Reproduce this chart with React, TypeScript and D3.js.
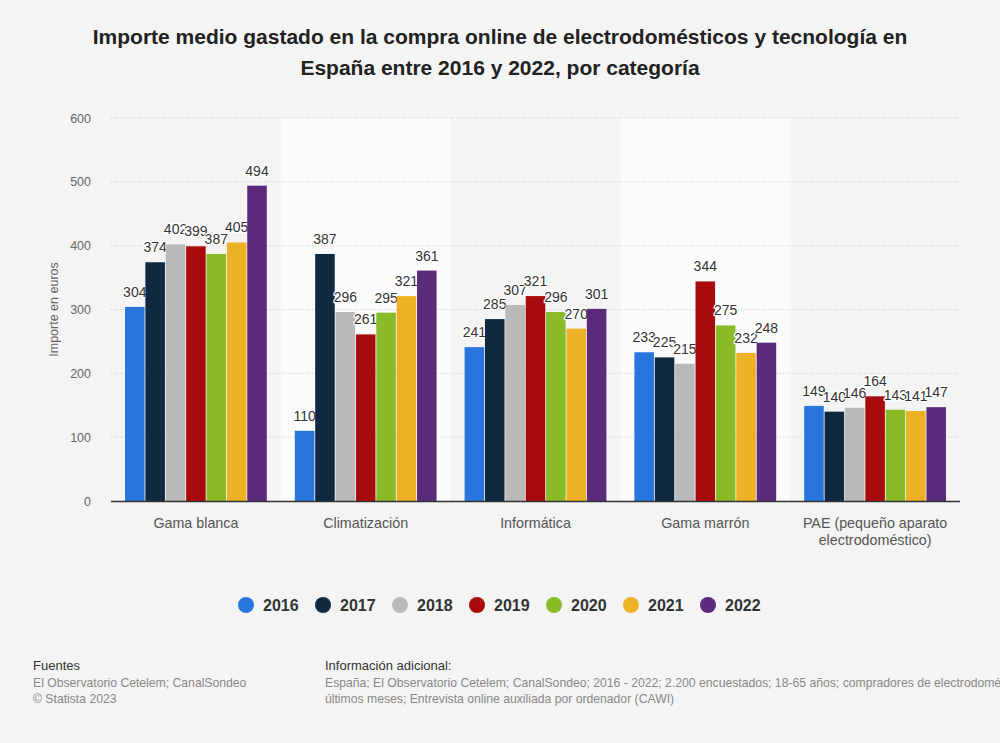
import React from "react";
import * as d3 from "d3";

const categories = [
  "Gama blanca",
  "Climatización",
  "Informática",
  "Gama marrón",
  "PAE (pequeño aparato|electrodoméstico)",
];
const years = ["2016", "2017", "2018", "2019", "2020", "2021", "2022"];
const v2016 = [304, 110, 241, 233, 149];
const v2017 = [374, 387, 285, 225, 140];
const v2018 = [402, 296, 307, 215, 146];
const v2019 = [399, 261, 321, 344, 164];
const v2020 = [387, 295, 296, 275, 143];
const v2021 = [405, 321, 270, 232, 141];
const v2022 = [494, 361, 301, 248, 147];
const seriesValues = [v2016, v2017, v2018, v2019, v2020, v2021, v2022];
const colors = ["#2876dd", "#0f2941", "#b9b9b9", "#a80b0c", "#88bb26", "#edb126", "#5c2a7a"];
const yTicks = [0, 100, 200, 300, 400, 500, 600];

const W = 1000;
const H = 743;
const left = 111;
const right = 960;
const top = 118;
const bottom = 501;

export default function App() {
  const x = d3.scaleBand<string>().domain(categories).range([left, right]);
  const inner = d3.scaleBand<string>().domain(years).range([14, x.bandwidth() - 14]).paddingInner(0.04);
  const y = d3.scaleLinear().domain([0, 600]).range([bottom, top]);

  const font = "'Liberation Sans', Arial, Helvetica, sans-serif";

  return (
    <svg
      width={W}
      height={H}
      style={{ position: "absolute", left: 0, top: 0, fontFamily: font }}
    >
      <rect x={0} y={0} width={W} height={H} fill="#f4f4f4" />
      <text x={500} y={44} textAnchor="middle" fontSize={21} fontWeight="bold" fill="#222">
        Importe medio gastado en la compra online de electrodomésticos y tecnología en
      </text>
      <text x={500} y={75} textAnchor="middle" fontSize={21} fontWeight="bold" fill="#222">
        España entre 2016 y 2022, por categoría
      </text>

      {categories.map((c, i) =>
        i % 2 === 1 ? (
          <rect key={c} x={x(c)} y={top} width={x.bandwidth()} height={bottom - top} fill="#fbfbfb" />
        ) : null
      )}

      {yTicks.map((t) => (
        <g key={t}>
          {t > 0 && (
            <line
              x1={left}
              x2={right}
              y1={y(t)}
              y2={y(t)}
              stroke="#c8c8c8"
              strokeWidth={1}
              strokeDasharray="1,2"
            />
          )}
          <text x={91} y={y(t) + 4.5} textAnchor="end" fontSize={12.5} fill="#666">
            {t}
          </text>
        </g>
      ))}

      <text
        transform={`translate(58,${(top + bottom) / 2}) rotate(-90)`}
        textAnchor="middle"
        fontSize={12.5}
        fill="#666"
      >
        Importe en euros
      </text>

      {seriesValues.map((vals, si) => (
        <g key={`s-${si}`}>
          {vals.map((v, ci) => {
            const bx = (x(categories[ci]) as number) + (inner(years[si]) as number);
            return (
              <rect
                key={`b-${ci}`}
                x={bx}
                y={y(v)}
                width={inner.bandwidth()}
                height={bottom - y(v)}
                fill={colors[si]}
              />
            );
          })}
          {vals.map((v, ci) => {
            const bx = (x(categories[ci]) as number) + (inner(years[si]) as number) + inner.bandwidth() / 2;
            return (
              <text
                key={`l-${ci}`}
                x={bx}
                y={y(v) - 10}
                textAnchor="middle"
                fontSize={14}
                fill="#333"
                stroke="#fff"
                strokeWidth={2.5}
                strokeLinejoin="round"
                style={{ paintOrder: "stroke" }}
              >
                {v}
              </text>
            );
          })}
        </g>
      ))}

      <line x1={left} x2={right} y1={bottom + 0.5} y2={bottom + 0.5} stroke="#333" strokeWidth={1.5} />

      {categories.map((c) => {
        const lines = c.split("|");
        const cx = (x(c) as number) + x.bandwidth() / 2;
        return (
          <text key={`x-${c}`} textAnchor="middle" fontSize={14.3} fill="#555">
            {lines.map((l, li) => (
              <tspan key={li} x={cx} y={528 + li * 17}>
                {l}
              </tspan>
            ))}
          </text>
        );
      })}

      {years.map((yr, i) => {
        const cx = 246 + i * 77;
        return (
          <g key={`lg-${yr}`}>
            <circle cx={cx} cy={605} r={8} fill={colors[i]} />
            <text x={cx + 17} y={610.5} fontSize={16} fontWeight="bold" fill="#333">
              {yr}
            </text>
          </g>
        );
      })}

      <text x={33} y={670} fontSize={13} fill="#333">Fuentes</text>
      <text x={33} y={686.5} fontSize={12.2} fill="#888">El Observatorio Cetelem; CanalSondeo</text>
      <text x={33} y={702.5} fontSize={12.2} fill="#888">© Statista 2023</text>
      <text x={325} y={670} fontSize={13} fill="#333">Información adicional:</text>
      <text x={325} y={686.5} fontSize={12.2} fill="#888">
        España; El Observatorio Cetelem; CanalSondeo; 2016 - 2022; 2.200 encuestados; 18-65 años; compradores de electrodomésticos y tecnología en los
      </text>
      <text x={325} y={702.5} fontSize={12.2} fill="#888">
        últimos meses; Entrevista online auxiliada por ordenador (CAWI)
      </text>
    </svg>
  );
}
